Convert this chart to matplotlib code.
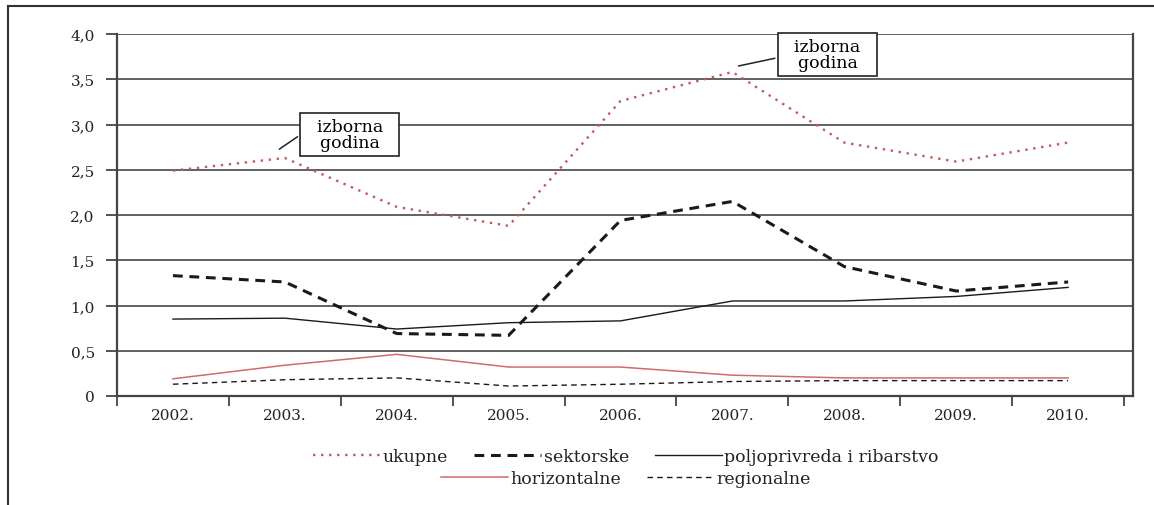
import matplotlib
matplotlib.use("Agg")
import matplotlib.pyplot as plt
from matplotlib.lines import Line2D
import numpy as np

years = ["2002.", "2003.", "2004.", "2005.", "2006.", "2007.", "2008.", "2009.", "2010."]
ukupne = [2.49, 2.63, 2.09, 1.88, 3.26, 3.58, 2.80, 2.59, 2.80]
sektorske = [1.33, 1.26, 0.69, 0.67, 1.94, 2.15, 1.43, 1.16, 1.26]
poljoprivreda = [0.85, 0.86, 0.74, 0.81, 0.83, 1.05, 1.05, 1.10, 1.20]
horizontalne = [0.19, 0.34, 0.46, 0.32, 0.32, 0.23, 0.20, 0.20, 0.20]
regionalne = [0.13, 0.18, 0.20, 0.11, 0.13, 0.16, 0.17, 0.17, 0.17]
yticks = [0, 0.5, 1.0, 1.5, 2.0, 2.5, 3.0, 3.5, 4.0]
ytick_labels = ["0", "0,5", "1,0", "1,5", "2,0", "2,5", "3,0", "3,5", "4,0"]
note_text = "  izborna  \n  godina  "

plt.rcParams['font.family'] = ['DejaVu Serif']

W, H = 1154, 506
fig = plt.figure(figsize=(W / 100, H / 100), dpi=100)
ax = fig.add_axes([117 / W, 1 - 397 / H, (1133 - 117) / W, (397 - 35) / H])

x = np.arange(len(years))
red = '#c4585a'
ax.plot(x, ukupne, color=red, lw=1.7, linestyle=(0, (1, 2.4)), label='ukupne')
ax.plot(x, sektorske, color='#1a1a1a', lw=2.2, linestyle=(0, (3.2, 2.2)), label='sektorske')
ax.plot(x, poljoprivreda, color='#1a1a1a', lw=1.0, label='poljoprivreda i ribarstvo')
ax.plot(x, horizontalne, color='#d26a6a', lw=1.1, label='horizontalne')
ax.plot(x, regionalne, color='#1a1a1a', lw=1.0, linestyle=(0, (4, 3)), label='regionalne')

ax.set_xlim(-0.5, 8.58)
ax.set_ylim(0, 4.0)
ax.set_yticks(yticks)
ax.set_yticklabels(ytick_labels, fontsize=11, color='#222222')
ax.yaxis.grid(True, color='#555555', lw=1.3)
ax.set_axisbelow(True)

ax.set_xticks(np.arange(-0.5, 9.0, 1.0))
ax.set_xticklabels([])
ax.set_xticks(x, minor=True)
ax.set_xticklabels(years, minor=True, fontsize=11, color='#222222')
ax.tick_params(axis='x', which='major', direction='out', length=7, width=1.3, color='#444444')
ax.tick_params(axis='x', which='minor', length=0, pad=9)
ax.tick_params(axis='y', direction='out', length=8, width=1.3, color='#444444', pad=8)

for s in ['left', 'bottom', 'right']:
    ax.spines[s].set_color('#444444')
    ax.spines[s].set_linewidth(1.6)
ax.spines['top'].set_visible(False)

bbox = dict(boxstyle='square,pad=0.3', fc='white', ec='#222222', lw=1.2)
ax.annotate(note_text, xy=(0.93, 2.71), xytext=(1.58, 2.89),
            ha='center', va='center', fontsize=12.5, linespacing=0.9, bbox=bbox,
            arrowprops=dict(arrowstyle='-', color='#222222', lw=1.1, relpos=(0, 0.6)))
ax.annotate(note_text, xy=(5.03, 3.64), xytext=(5.85, 3.77),
            ha='center', va='center', fontsize=12.5, linespacing=0.9, bbox=bbox,
            arrowprops=dict(arrowstyle='-', color='#222222', lw=1.1, relpos=(0, 0.45)))

handles, labels = ax.get_legend_handles_labels()
leg1 = fig.legend(handles[:3], labels[:3], loc='center', bbox_to_anchor=(626 / W, 1 - 458 / H),
                  ncol=3, frameon=False, fontsize=12.5, handlelength=3.85, handletextpad=0.15,
                  columnspacing=1.5, borderpad=0)
leg2 = fig.legend(handles[3:], labels[3:], loc='center', bbox_to_anchor=(626 / W, 1 - 480 / H),
                  ncol=2, frameon=False, fontsize=12.5, handlelength=3.85, handletextpad=0.15,
                  columnspacing=1.5, borderpad=0)
for t in leg1.get_texts() + leg2.get_texts():
    t.set_color('#222222')

fig.add_artist(Line2D([8 / W, 1.0], [1 - 7 / H, 1 - 7 / H], color='#333333', lw=1.5))
fig.add_artist(Line2D([8 / W, 8 / W], [1 - 7 / H, 0.0], color='#333333', lw=1.5))

fig.savefig("out.png", dpi=100, facecolor='white')
